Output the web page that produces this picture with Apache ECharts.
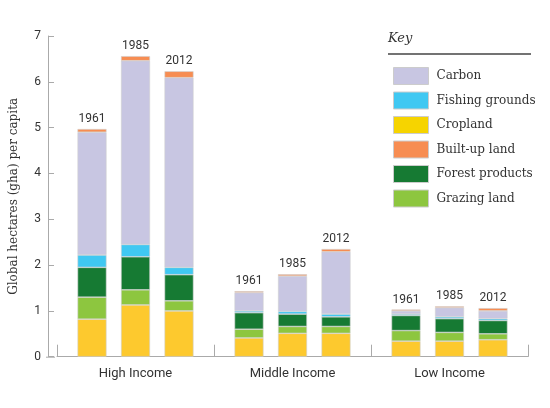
<!DOCTYPE html>
<html>
<head>
<meta charset="utf-8">
<script src="https://cdn.jsdelivr.net/npm/echarts@6/dist/echarts.min.js"></script>
<style>html,body{margin:0;padding:0;background:#fff}#c{width:550px;height:408px}</style>
</head>
<body>
<div id="c"></div>
<script>
const categories = ['High Income', 'Middle Income', 'Low Income'];
const years = ['1961', '1985', '2012'];
const yTicks = [0, 1, 2, 3, 4, 5, 6, 7];
// values per year: [High, Middle, Low]
const cropland       = { '1961': [0.82, 0.41, 0.34], '1985': [1.13, 0.51, 0.34], '2012': [1.00, 0.51, 0.37] };
const grazingLand    = { '1961': [0.48, 0.19, 0.23], '1985': [0.33, 0.15, 0.19], '2012': [0.22, 0.15, 0.13] };
const forestProducts = { '1961': [0.65, 0.36, 0.33], '1985': [0.72, 0.27, 0.30], '2012': [0.57, 0.21, 0.29] };
const fishingGrounds = { '1961': [0.27, 0.04, 0.03], '1985': [0.27, 0.06, 0.04], '2012': [0.16, 0.06, 0.04] };
const carbon         = { '1961': [2.68, 0.40, 0.07], '1985': [4.01, 0.77, 0.20], '2012': [4.14, 1.36, 0.17] };
const builtUpLand    = { '1961': [0.07, 0.03, 0.03], '1985': [0.10, 0.04, 0.03], '2012': [0.14, 0.06, 0.06] };

const layers = [
  { name: 'Cropland', data: cropland, color: '#fdc92e' },
  { name: 'Grazing land', data: grazingLand, color: '#8dc63f' },
  { name: 'Forest products', data: forestProducts, color: '#167a33' },
  { name: 'Fishing grounds', data: fishingGrounds, color: '#40c8f2' },
  { name: 'Carbon', data: carbon, color: '#c8c6e2' },
  { name: 'Built-up land', data: builtUpLand, color: '#f78d52' }
];
const legendOrder = ['Carbon', 'Fishing grounds', 'Cropland', 'Built-up land', 'Forest products', 'Grazing land'];
const legendColors = { 'Cropland': '#f6d400' };

const condensed = '"Liberation Sans Narrow", "Roboto", "Liberation Sans", sans-serif';
const serif = '"DejaVu Serif", "Liberation Serif", serif';

const series = [];
years.forEach(function (yr) {
  layers.forEach(function (ly, i) {
    const top = i === layers.length - 1;
    series.push({
      name: ly.name,
      type: 'bar',
      stack: yr,
      barWidth: 29,
      barGap: '50%',
      data: ly.data[yr],
      itemStyle: { color: ly.color, borderColor: '#d0d0d0', borderWidth: 0.6 },
      label: top ? {
        show: true, position: 'top', distance: 4,
        formatter: yr, fontFamily: condensed, fontSize: 12, color: '#333'
      } : { show: false },
      emphasis: { disabled: true },
      animation: false
    });
  });
});

const chart = echarts.init(document.getElementById('c'), null, { renderer: 'canvas' });
chart.setOption({
  animation: false,
  grid: { left: 55, right: 22, top: 36, bottom: 51.3, containLabel: false },
  xAxis: {
    type: 'category',
    data: categories,
    axisLine: { lineStyle: { color: '#aaaaaa', width: 1 } },
    axisTick: { show: true, inside: true, length: 12, alignWithLabel: false, lineStyle: { color: '#aaaaaa' } },
    axisLabel: { fontFamily: condensed, fontSize: 13, color: '#333', margin: 11 }
  },
  yAxis: {
    type: 'value',
    min: 0, max: 7, interval: 1,
    offset: 9,
    name: 'Global hectares (gha) per capita',
    nameLocation: 'middle',
    nameRotate: 90,
    nameGap: 28,
    nameTextStyle: { fontFamily: serif, fontSize: 12, color: '#333' },
    axisLine: { show: true, lineStyle: { color: '#aaaaaa', width: 1 } },
    axisTick: { show: true, inside: true, length: 6, lineStyle: { color: '#aaaaaa' } },
    axisLabel: { fontFamily: condensed, fontSize: 12, color: '#333', margin: 7,
      formatter: function (v) { return yTicks.indexOf(v) >= 0 ? String(v) : ''; } },
    splitLine: { show: false }
  },
  legend: {
    orient: 'vertical',
    left: 388, top: 62,
    itemWidth: 35, itemHeight: 17, itemGap: 6.5,
    icon: 'rect',
    selectedMode: false,
    itemStyle: { borderColor: '#cccccc', borderWidth: 1 },
    textStyle: { fontFamily: serif, fontSize: 12, color: '#333', padding: [0, 0, 0, 3] },
    data: legendOrder.map(function (n) {
      return legendColors[n] ? { name: n, itemStyle: { color: legendColors[n] } } : { name: n };
    })
  },
  graphic: [
    { type: 'text', left: 388, top: 32, style: { text: 'Key', fontStyle: 'italic', fontFamily: serif, fontSize: 13, fill: '#333' } },
    { type: 'line', shape: { x1: 388, y1: 54, x2: 531, y2: 54 }, style: { stroke: '#444', lineWidth: 1.5 } }
  ],
  series: series
});
// extend baseline from y-axis to x-axis start
const base = chart.convertToPixel({ yAxisIndex: 0 }, 0);
chart.setOption({ graphic: [{}, {}, { type: 'line', shape: { x1: 46, y1: base + 0.5, x2: 55, y2: base + 0.5 }, style: { stroke: '#aaaaaa', lineWidth: 1 } }] });
</script>
</body>
</html>
